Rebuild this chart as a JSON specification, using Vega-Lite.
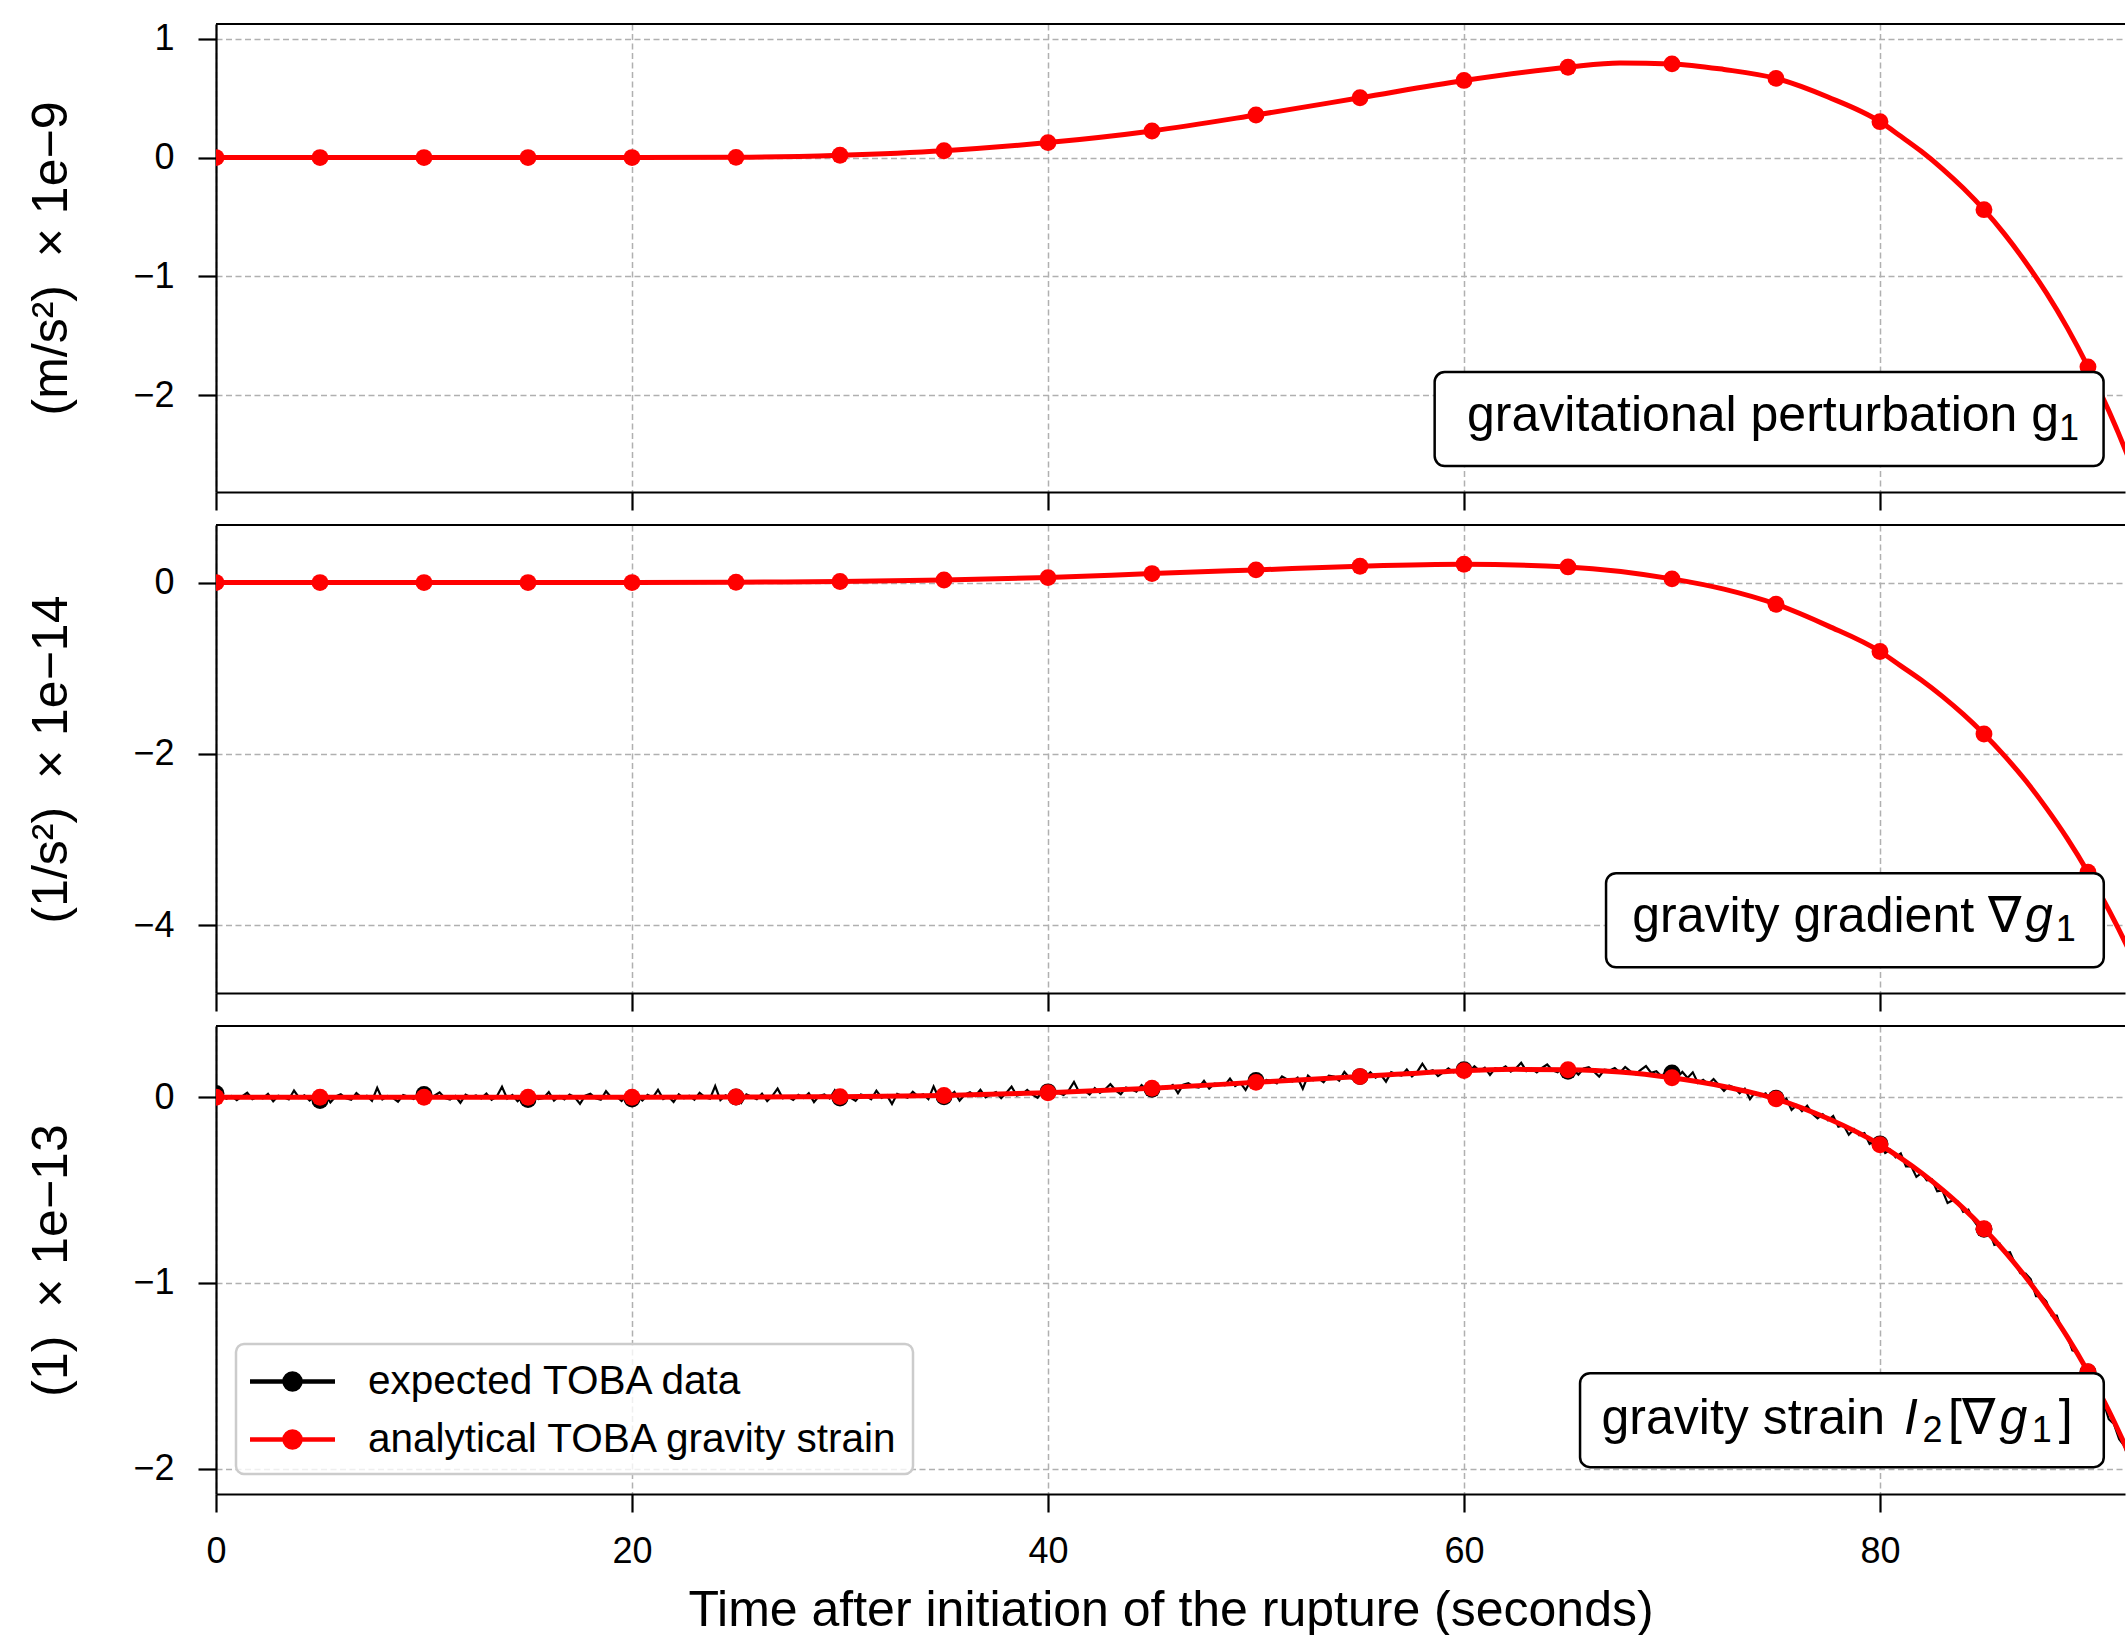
{
  "$schema": "https://vega.github.io/schema/vega-lite/v6.json",
  "background": "white",
  "padding": {"left": 26, "top": 20, "right": 0, "bottom": 0},
  "spacing": 33,
  "bounds": "flush",
  "resolve": {"scale": {"color": "independent"}, "legend": {"color": "independent"}},
  "config": {
    "view": {"stroke": null},
    "font": "Liberation Sans",
    "text": {"font": "Liberation Sans"},
    "axis": {
      "labelFont": "Liberation Sans", "titleFont": "Liberation Sans",
      "labelColor": "black", "titleColor": "black", "titleFontWeight": "normal",
      "domainColor": "black", "domainWidth": 2.2,
      "tickColor": "black", "tickWidth": 2.2, "tickSize": 18,
      "labelFontSize": 36, "titleFontSize": 50,
      "grid": true, "gridColor": "#b0b0b0", "gridDash": [6, 3.5], "gridWidth": 1.5,
      "labelPadding": 22
    },
    "axisX": {"titlePadding": 16, "labelFlush": false},
    "axisY": {"labelPadding": 24, "titlePadding": 56}
  },
  "datasets": {
    "g1": [
      {"t": 0, "v": 0}, {"t": 5, "v": 0}, {"t": 10, "v": 0}, {"t": 15, "v": 0}, {"t": 20, "v": 0},
      {"t": 25, "v": 0.002}, {"t": 30, "v": 0.02}, {"t": 35, "v": 0.058}, {"t": 40, "v": 0.126},
      {"t": 45, "v": 0.224}, {"t": 50, "v": 0.358}, {"t": 55, "v": 0.503}, {"t": 60, "v": 0.649},
      {"t": 65, "v": 0.76}, {"t": 67.5, "v": 0.795}, {"t": 70, "v": 0.788}, {"t": 72.5, "v": 0.741},
      {"t": 75, "v": 0.666}, {"t": 77.5, "v": 0.509}, {"t": 80, "v": 0.302}, {"t": 81, "v": 0.179},
      {"t": 82, "v": 0.051}, {"t": 83, "v": -0.094}, {"t": 84, "v": -0.256}, {"t": 85, "v": -0.438},
      {"t": 86, "v": -0.646}, {"t": 87, "v": -0.88}, {"t": 88, "v": -1.138}, {"t": 89, "v": -1.43},
      {"t": 90, "v": -1.76}, {"t": 91, "v": -2.13}, {"t": 92, "v": -2.547}, {"t": 93, "v": -3.016},
      {"t": 94, "v": -3.54}
    ],
    "grad": [
      {"t": 0, "v": 0}, {"t": 5, "v": 0}, {"t": 10, "v": 0}, {"t": 15, "v": 0}, {"t": 20, "v": 0},
      {"t": 25, "v": 0.004}, {"t": 30, "v": 0.012}, {"t": 35, "v": 0.03}, {"t": 40, "v": 0.058},
      {"t": 45, "v": 0.105}, {"t": 50, "v": 0.148}, {"t": 55, "v": 0.191}, {"t": 60, "v": 0.214},
      {"t": 65, "v": 0.183}, {"t": 70, "v": 0.043}, {"t": 72.5, "v": -0.077}, {"t": 75, "v": -0.252},
      {"t": 77.5, "v": -0.505}, {"t": 80, "v": -0.804}, {"t": 81, "v": -0.972}, {"t": 82, "v": -1.14},
      {"t": 83, "v": -1.328}, {"t": 84, "v": -1.536}, {"t": 85, "v": -1.767}, {"t": 86, "v": -2.025},
      {"t": 87, "v": -2.31}, {"t": 88, "v": -2.632}, {"t": 89, "v": -2.985}, {"t": 90, "v": -3.38},
      {"t": 91, "v": -3.819}, {"t": 92, "v": -4.305}, {"t": 93, "v": -4.849}, {"t": 94, "v": -5.45}
    ],
    "strain": [
      {"t": 0, "v": 0}, {"t": 5, "v": 0}, {"t": 10, "v": 0}, {"t": 15, "v": 0}, {"t": 20, "v": 0},
      {"t": 25, "v": 0.001}, {"t": 30, "v": 0.003}, {"t": 35, "v": 0.009}, {"t": 40, "v": 0.024},
      {"t": 45, "v": 0.048}, {"t": 50, "v": 0.08}, {"t": 55, "v": 0.111}, {"t": 60, "v": 0.143},
      {"t": 62.5, "v": 0.15}, {"t": 65, "v": 0.148}, {"t": 67.5, "v": 0.136}, {"t": 70, "v": 0.105},
      {"t": 72.5, "v": 0.058}, {"t": 75, "v": -0.009}, {"t": 77.5, "v": -0.115}, {"t": 80, "v": -0.256},
      {"t": 81, "v": -0.328}, {"t": 82, "v": -0.408}, {"t": 83, "v": -0.498}, {"t": 84, "v": -0.597},
      {"t": 85, "v": -0.708}, {"t": 86, "v": -0.831}, {"t": 87, "v": -0.968}, {"t": 88, "v": -1.121},
      {"t": 89, "v": -1.289}, {"t": 90, "v": -1.478}, {"t": 91, "v": -1.687}, {"t": 92, "v": -1.93},
      {"t": 94, "v": -2.5}
    ],
    "toba": [
      {"t":0,"v":0.02},{"t":0.25,"v":0.012},{"t":0.5,"v":-0.008},{"t":0.75,"v":0.006},{"t":1,"v":-0.016},{"t":1.25,"v":0.004},{"t":1.5,"v":0.024},{"t":1.75,"v":-0.01},{"t":2,"v":0.002},{"t":2.25,"v":-0.006},{"t":2.5,"v":0.018},{"t":2.75,"v":-0.022},{"t":3,"v":0.008},{"t":3.25,"v":0},{"t":3.5,"v":-0.012},{"t":3.75,"v":0.036},{"t":4,"v":-0.004},{"t":4.25,"v":0.01},{"t":4.5,"v":-0.018},{"t":4.75,"v":0.006},
      {"t":5,"v":-0.018},{"t":5.25,"v":0.014},{"t":5.5,"v":-0.028},{"t":5.75,"v":0.004},{"t":6,"v":0.016},{"t":6.25,"v":-0.006},{"t":6.5,"v":-0.014},{"t":6.75,"v":0.022},{"t":7,"v":-0.002},{"t":7.25,"v":0.008},{"t":7.5,"v":-0.02},{"t":7.75,"v":0.05},{"t":8,"v":-0.012},{"t":8.25,"v":0.006},{"t":8.5,"v":-0.004},{"t":8.75,"v":-0.024},{"t":9,"v":0.012},{"t":9.25,"v":0.002},{"t":9.5,"v":-0.01},{"t":9.75,"v":0.018},
      {"t":10,"v":0.015},{"t":10.25,"v":-0.016},{"t":10.5,"v":0.008},{"t":10.75,"v":0.026},{"t":11,"v":-0.004},{"t":11.25,"v":-0.012},{"t":11.5,"v":0.006},{"t":11.75,"v":-0.03},{"t":12,"v":0.014},{"t":12.25,"v":0},{"t":12.5,"v":0.01},{"t":12.75,"v":-0.006},{"t":13,"v":0.02},{"t":13.25,"v":-0.014},{"t":13.5,"v":0.004},{"t":13.75,"v":0.056},{"t":14,"v":-0.008},{"t":14.25,"v":0.012},{"t":14.5,"v":-0.022},{"t":14.75,"v":0.002},
      {"t":15,"v":-0.013},{"t":15.25,"v":0.016},{"t":15.5,"v":-0.01},{"t":15.75,"v":-0.004},{"t":16,"v":0.028},{"t":16.25,"v":-0.018},{"t":16.5,"v":0.006},{"t":16.75,"v":-0.012},{"t":17,"v":0.014},{"t":17.25,"v":0},{"t":17.5,"v":-0.036},{"t":17.75,"v":0.008},{"t":18,"v":0.018},{"t":18.25,"v":-0.006},{"t":18.5,"v":-0.014},{"t":18.75,"v":0.032},{"t":19,"v":-0.002},{"t":19.25,"v":0.004},{"t":19.5,"v":-0.02},{"t":19.75,"v":0.01},
      {"t":20,"v":-0.01},{"t":20.25,"v":0.006},{"t":20.5,"v":-0.018},{"t":20.75,"v":0.012},{"t":21,"v":-0.002},{"t":21.25,"v":0.04},{"t":21.5,"v":-0.01},{"t":21.75,"v":0.004},{"t":22,"v":-0.026},{"t":22.25,"v":0.016},{"t":22.5,"v":-0.006},{"t":22.75,"v":0.008},{"t":23,"v":-0.014},{"t":23.25,"v":0.024},{"t":23.5,"v":0},{"t":23.75,"v":-0.008},{"t":24,"v":0.06},{"t":24.25,"v":-0.016},{"t":24.5,"v":0.01},{"t":24.75,"v":-0.004},
      {"t":25,"v":0.001},{"t":25.25,"v":-0.031},{"t":25.5,"v":0.015},{"t":25.75,"v":0.003},{"t":26,"v":-0.011},{"t":26.25,"v":0.019},{"t":26.5,"v":-0.021},{"t":26.75,"v":0.007},{"t":27,"v":0.046},{"t":27.25,"v":-0.006},{"t":27.5,"v":0.002},{"t":27.75,"v":-0.014},{"t":28,"v":0.012},{"t":28.25,"v":-0.004},{"t":28.5,"v":0.022},{"t":28.75,"v":-0.026},{"t":29,"v":0.007},{"t":29.25,"v":0.015},{"t":29.5,"v":-0.007},{"t":29.75,"v":0.037},
      {"t":30,"v":-0.005},{"t":30.25,"v":0.019},{"t":30.5,"v":-0.002},{"t":30.75,"v":-0.02},{"t":31,"v":0.014},{"t":31.25,"v":0.006},{"t":31.5,"v":-0.011},{"t":31.75,"v":0.035},{"t":32,"v":-0.003},{"t":32.25,"v":0.011},{"t":32.5,"v":-0.036},{"t":32.75,"v":0.018},{"t":33,"v":0.006},{"t":33.25,"v":-0.003},{"t":33.5,"v":0.029},{"t":33.75,"v":0.005},{"t":34,"v":0.016},{"t":34.25,"v":-0.01},{"t":34.5,"v":0.058},{"t":34.75,"v":-0.003},
      {"t":35,"v":0.002},{"t":35.25,"v":0.004},{"t":35.5,"v":0.028},{"t":35.75,"v":-0.019},{"t":36,"v":0.014},{"t":36.25,"v":0.027},{"t":36.5,"v":0.007},{"t":36.75,"v":0.04},{"t":37,"v":-0.001},{"t":37.25,"v":0.016},{"t":37.5,"v":0.028},{"t":37.75,"v":-0.005},{"t":38,"v":0.024},{"t":38.25,"v":0.057},{"t":38.5,"v":0.009},{"t":38.75,"v":0.016},{"t":39,"v":0.039},{"t":39.25,"v":0.014},{"t":39.5,"v":-0.003},{"t":39.75,"v":0.035},
      {"t":40,"v":0.029},{"t":40.25,"v":0.045},{"t":40.5,"v":0.024},{"t":40.75,"v":0.012},{"t":41,"v":0.037},{"t":41.25,"v":0.082},{"t":41.5,"v":0.027},{"t":41.75,"v":0.035},{"t":42,"v":0.014},{"t":42.25,"v":0.049},{"t":42.5,"v":0.024},{"t":42.75,"v":0.043},{"t":43,"v":0.07},{"t":43.25,"v":0.037},{"t":43.5,"v":0.016},{"t":43.75,"v":0.052},{"t":44,"v":0.043},{"t":44.25,"v":0.03},{"t":44.5,"v":0.065},{"t":44.75,"v":0.039},
      {"t":45,"v":0.043},{"t":45.25,"v":0.031},{"t":45.5,"v":0.055},{"t":45.75,"v":0.048},{"t":46,"v":0.066},{"t":46.25,"v":0.022},{"t":46.5,"v":0.067},{"t":46.75,"v":0.075},{"t":47,"v":0.057},{"t":47.25,"v":0.052},{"t":47.5,"v":0.088},{"t":47.75,"v":0.047},{"t":48,"v":0.073},{"t":48.25,"v":0.071},{"t":48.5,"v":0.064},{"t":48.75,"v":0.1},{"t":49,"v":0.06},{"t":49.25,"v":0.077},{"t":49.5,"v":0.039},{"t":49.75,"v":0.09},
      {"t":50,"v":0.09},{"t":50.25,"v":0.063},{"t":50.5,"v":0.093},{"t":50.75,"v":0.088},{"t":51,"v":0.074},{"t":51.25,"v":0.112},{"t":51.5,"v":0.095},{"t":51.75,"v":0.085},{"t":52,"v":0.105},{"t":52.25,"v":0.046},{"t":52.5,"v":0.116},{"t":52.75,"v":0.091},{"t":53,"v":0.101},{"t":53.25,"v":0.08},{"t":53.5,"v":0.116},{"t":53.75,"v":0.111},{"t":54,"v":0.089},{"t":54.25,"v":0.136},{"t":54.5,"v":0.104},{"t":54.75,"v":0.095},
      {"t":55,"v":0.111},{"t":55.25,"v":0.107},{"t":55.5,"v":0.134},{"t":55.75,"v":0.106},{"t":56,"v":0.122},{"t":56.25,"v":0.084},{"t":56.5,"v":0.135},{"t":56.75,"v":0.123},{"t":57,"v":0.117},{"t":57.25,"v":0.149},{"t":57.5,"v":0.112},{"t":57.75,"v":0.136},{"t":58,"v":0.18},{"t":58.25,"v":0.137},{"t":58.5,"v":0.145},{"t":58.75,"v":0.114},{"t":59,"v":0.134},{"t":59.25,"v":0.155},{"t":59.5,"v":0.134},{"t":59.75,"v":0.148},
      {"t":60,"v":0.148},{"t":60.25,"v":0.136},{"t":60.5,"v":0.167},{"t":60.75,"v":0.142},{"t":61,"v":0.159},{"t":61.25,"v":0.12},{"t":61.5,"v":0.156},{"t":61.75,"v":0.149},{"t":62,"v":0.166},{"t":62.25,"v":0.138},{"t":62.5,"v":0.156},{"t":62.75,"v":0.185},{"t":63,"v":0.141},{"t":63.25,"v":0.153},{"t":63.5,"v":0.134},{"t":63.75,"v":0.158},{"t":64,"v":0.176},{"t":64.25,"v":0.145},{"t":64.5,"v":0.135},{"t":64.75,"v":0.162},
      {"t":65,"v":0.14},{"t":65.25,"v":0.151},{"t":65.5,"v":0.122},{"t":65.75,"v":0.155},{"t":66,"v":0.162},{"t":66.25,"v":0.137},{"t":66.5,"v":0.111},{"t":66.75,"v":0.148},{"t":67,"v":0.144},{"t":67.25,"v":0.157},{"t":67.5,"v":0.133},{"t":67.75,"v":0.163},{"t":68,"v":0.139},{"t":68.25,"v":0.124},{"t":68.5,"v":0.147},{"t":68.75,"v":0.168},{"t":69,"v":0.131},{"t":69.25,"v":0.14},{"t":69.5,"v":0.111},{"t":69.75,"v":0.144},
      {"t":70,"v":0.131},{"t":70.25,"v":0.108},{"t":70.5,"v":0.136},{"t":70.75,"v":0.104},{"t":71,"v":0.134},{"t":71.25,"v":0.077},{"t":71.5,"v":0.094},{"t":71.75,"v":0.071},{"t":72,"v":0.098},{"t":72.25,"v":0.066},{"t":72.5,"v":0.034},{"t":72.75,"v":0.063},{"t":73,"v":0.051},{"t":73.25,"v":0.022},{"t":73.5,"v":0.046},{"t":73.75,"v":-0.01},{"t":74,"v":0.027},{"t":74.25,"v":0.008},{"t":74.5,"v":0.021},{"t":74.75,"v":-0.026},
      {"t":75,"v":-0.005},{"t":75.25,"v":-0.031},{"t":75.5,"v":-0.008},{"t":75.75,"v":-0.068},{"t":76,"v":-0.042},{"t":76.25,"v":-0.075},{"t":76.5,"v":-0.046},{"t":76.75,"v":-0.089},{"t":77,"v":-0.114},{"t":77.25,"v":-0.092},{"t":77.5,"v":-0.124},{"t":77.75,"v":-0.101},{"t":78,"v":-0.159},{"t":78.25,"v":-0.151},{"t":78.5,"v":-0.202},{"t":78.75,"v":-0.172},{"t":79,"v":-0.204},{"t":79.25,"v":-0.193},{"t":79.5,"v":-0.252},{"t":79.75,"v":-0.235},
      {"t":80,"v":-0.251},{"t":80.25,"v":-0.3},{"t":80.5,"v":-0.283},{"t":80.75,"v":-0.323},{"t":81,"v":-0.303},{"t":81.25,"v":-0.372},{"t":81.5,"v":-0.371},{"t":81.75,"v":-0.429},{"t":82,"v":-0.408},{"t":82.25,"v":-0.448},{"t":82.5,"v":-0.443},{"t":82.75,"v":-0.507},{"t":83,"v":-0.502},{"t":83.25,"v":-0.57},{"t":83.5,"v":-0.555},{"t":83.75,"v":-0.563},{"t":84,"v":-0.617},{"t":84.25,"v":-0.605},{"t":84.5,"v":-0.664},{"t":84.75,"v":-0.702},
      {"t":85,"v":-0.711},{"t":85.25,"v":-0.721},{"t":85.5,"v":-0.796},{"t":85.75,"v":-0.788},{"t":86,"v":-0.839},{"t":86.25,"v":-0.835},{"t":86.5,"v":-0.898},{"t":86.75,"v":-0.948},{"t":87,"v":-0.95},{"t":87.25,"v":-0.981},{"t":87.5,"v":-1.071},{"t":87.75,"v":-1.07},{"t":88,"v":-1.101},{"t":88.25,"v":-1.175},{"t":88.5,"v":-1.176},{"t":88.75,"v":-1.256},{"t":89,"v":-1.286},{"t":89.25,"v":-1.363},{"t":89.5,"v":-1.372},{"t":89.75,"v":-1.439},
      {"t":90,"v":-1.48},{"t":90.25,"v":-1.518},{"t":90.5,"v":-1.608},{"t":90.75,"v":-1.642},{"t":91,"v":-1.734},{"t":91.25,"v":-1.76},{"t":91.5,"v":-1.841},{"t":91.75,"v":-1.877},{"t":92,"v":-1.97}
    ]
  },
  "vconcat": [
    {
      "width": 1909,
      "height": 468,
      "layer": [
        {
          "data": {"name": "g1"},
          "mark": {"type": "line", "color": "red", "strokeWidth": 5, "interpolate": "monotone", "clip": true},
          "encoding": {
            "x": {"field": "t", "type": "quantitative", "scale": {"domain": [0, 91.78], "nice": false, "zero": false},
                  "axis": {"values": [0, 20, 40, 60, 80], "labels": false, "title": null}},
            "y": {"field": "v", "type": "quantitative", "scale": {"domain": [-2.8126, 1.1235], "nice": false, "zero": false},
                  "axis": {"values": [-2, -1, 0, 1], "labelExpr": "datum.value < 0 ? '\u2212' + format(-datum.value, 'd') : format(datum.value, 'd')", "title": "(m/s²) \u00a0× 1e−9"}}
          }
        },
        {
          "data": {"name": "g1"},
          "transform": [{"filter": "datum.t % 5 === 0"}],
          "mark": {"type": "point", "filled": true, "color": "red", "size": 285, "opacity": 1, "clip": true},
          "encoding": {"x": {"field": "t", "type": "quantitative"}, "y": {"field": "v", "type": "quantitative"}}
        },
        {
          "data": {"values": [{}]},
          "mark": {"type": "rect", "fill": "white", "stroke": "black", "strokeWidth": 2.5, "cornerRadius": 10},
          "encoding": {"x": {"datum": 58.59}, "x2": {"datum": 90.75}, "y": {"datum": -1.804}, "y2": {"datum": -2.594}}
        },
        {
          "data": {"values": [{}]},
          "mark": {"type": "text", "text": "gravitational perturbation g", "fontSize": 50, "align": "right", "baseline": "alphabetic", "color": "black"},
          "encoding": {"x": {"datum": 88.61}, "y": {"datum": -2.3}}
        },
        {
          "data": {"values": [{}]},
          "mark": {"type": "text", "text": "1", "fontSize": 36, "align": "left", "baseline": "alphabetic", "color": "black"},
          "encoding": {"x": {"datum": 88.61}, "y": {"datum": -2.376}}
        },
        {
          "data": {"values": [{}]},
          "mark": {"type": "rule", "stroke": "black", "strokeWidth": 2.2},
          "encoding": {"y": {"datum": 1.1235}}
        }
      ]
    },
    {
      "width": 1909,
      "height": 468,
      "layer": [
        {
          "data": {"name": "grad"},
          "mark": {"type": "line", "color": "red", "strokeWidth": 5, "interpolate": "monotone", "clip": true},
          "encoding": {
            "x": {"field": "t", "type": "quantitative", "scale": {"domain": [0, 91.78], "nice": false, "zero": false},
                  "axis": {"values": [0, 20, 40, 60, 80], "labels": false, "title": null}},
            "y": {"field": "v", "type": "quantitative", "scale": {"domain": [-4.789, 0.672], "nice": false, "zero": false},
                  "axis": {"values": [-4, -2, 0], "labelExpr": "datum.value < 0 ? '\u2212' + format(-datum.value, 'd') : format(datum.value, 'd')", "title": "(1/s²) \u00a0× 1e−14"}}
          }
        },
        {
          "data": {"name": "grad"},
          "transform": [{"filter": "datum.t % 5 === 0"}],
          "mark": {"type": "point", "filled": true, "color": "red", "size": 285, "opacity": 1, "clip": true},
          "encoding": {"x": {"field": "t", "type": "quantitative"}, "y": {"field": "v", "type": "quantitative"}}
        },
        {
          "data": {"values": [{}]},
          "mark": {"type": "rect", "fill": "white", "stroke": "black", "strokeWidth": 2.5, "cornerRadius": 10},
          "encoding": {"x": {"datum": 66.83}, "x2": {"datum": 90.76}, "y": {"datum": -3.392}, "y2": {"datum": -4.488}}
        },
        {
          "data": {"values": [{}]},
          "mark": {"type": "text", "text": "gravity gradient ∇", "fontSize": 50, "align": "right", "baseline": "alphabetic", "color": "black"},
          "encoding": {"x": {"datum": 86.78}, "y": {"datum": -4.08}}
        },
        {
          "data": {"values": [{}]},
          "mark": {"type": "text", "text": "g", "fontSize": 50, "fontStyle": "italic", "align": "left", "baseline": "alphabetic", "color": "black"},
          "encoding": {"x": {"datum": 86.97}, "y": {"datum": -4.08}}
        },
        {
          "data": {"values": [{}]},
          "mark": {"type": "text", "text": "1", "fontSize": 36, "align": "left", "baseline": "alphabetic", "color": "black"},
          "encoding": {"x": {"datum": 88.45}, "y": {"datum": -4.185}}
        },
        {
          "data": {"values": [{}]},
          "mark": {"type": "rule", "stroke": "black", "strokeWidth": 2.2},
          "encoding": {"y": {"datum": 0.672}}
        }
      ]
    },
    {
      "width": 1909,
      "height": 468,
      "layer": [
        {
          "data": {"name": "toba"},
          "mark": {"type": "line", "strokeWidth": 2.2, "clip": true},
          "encoding": {
            "x": {"field": "t", "type": "quantitative", "scale": {"domain": [0, 91.78], "nice": false, "zero": false},
                  "axis": {"values": [0, 20, 40, 60, 80], "format": "d", "title": "Time after initiation of the rupture (seconds)"}},
            "y": {"field": "v", "type": "quantitative", "scale": {"domain": [-2.1366, 0.3834], "nice": false, "zero": false},
                  "axis": {"values": [-2, -1, 0], "labelExpr": "datum.value < 0 ? '\u2212' + format(-datum.value, 'd') : format(datum.value, 'd')", "title": "(1) \u00a0× 1e−13"}},
            "color": {
              "datum": "expected TOBA data",
              "scale": {"domain": ["expected TOBA data", "analytical TOBA gravity strain"], "range": ["black", "red"]},
              "legend": {
                "title": null, "orient": "bottom-left", "offset": 20, "padding": 14,
                "fillColor": "rgba(255,255,255,0.8)", "strokeColor": "#cccccc", "cornerRadius": 8,
                "labelFont": "Liberation Sans", "labelFontSize": 40.5, "labelColor": "black", "labelLimit": 900,
                "symbolOffset": 19, "labelOffset": 52, "rowPadding": 14,
                "symbolType": "M-2,0H2M0.376,0A0.376,0.376,0,1,1,-0.376,0A0.376,0.376,0,1,1,0.376,0Z",
                "symbolSize": 1806, "symbolStrokeWidth": 4.5,
                "encode": {
                  "symbols": {"update": {
                    "fill": {"signal": "datum.value === 'expected TOBA data' ? 'black' : 'red'"},
                    "stroke": {"signal": "datum.value === 'expected TOBA data' ? 'black' : 'red'"},
                    "opacity": {"value": 1}
                  }},
                  "legend": {"update": {"strokeWidth": {"value": 2.5}}}
                }
              }
            }
          }
        },
        {
          "data": {"name": "toba"},
          "transform": [{"filter": "datum.t % 5 === 0"}],
          "mark": {"type": "point", "filled": true, "color": "black", "size": 285, "opacity": 1, "clip": true},
          "encoding": {"x": {"field": "t", "type": "quantitative"}, "y": {"field": "v", "type": "quantitative"}}
        },
        {
          "data": {"name": "strain"},
          "mark": {"type": "line", "strokeWidth": 5, "interpolate": "monotone", "clip": true},
          "encoding": {
            "x": {"field": "t", "type": "quantitative"},
            "y": {"field": "v", "type": "quantitative"},
            "color": {"datum": "analytical TOBA gravity strain"}
          }
        },
        {
          "data": {"name": "strain"},
          "transform": [{"filter": "datum.t % 5 === 0"}],
          "mark": {"type": "point", "filled": true, "color": "red", "size": 285, "opacity": 1, "clip": true},
          "encoding": {"x": {"field": "t", "type": "quantitative"}, "y": {"field": "v", "type": "quantitative"}}
        },
        {
          "data": {"values": [{}]},
          "mark": {"type": "rect", "fill": "white", "stroke": "black", "strokeWidth": 2.5, "cornerRadius": 10},
          "encoding": {"x": {"datum": 65.58}, "x2": {"datum": 90.76}, "y": {"datum": -1.4864}, "y2": {"datum": -1.992}}
        },
        {
          "data": {"values": [{}]},
          "mark": {"type": "text", "text": "gravity strain", "fontSize": 50, "align": "right", "baseline": "alphabetic", "color": "black"},
          "encoding": {"x": {"datum": 80.24}, "y": {"datum": -1.811}}
        },
        {
          "data": {"values": [{}]},
          "mark": {"type": "text", "text": "I", "fontSize": 50, "fontStyle": "italic", "align": "left", "baseline": "alphabetic", "color": "black"},
          "encoding": {"x": {"datum": 81.15}, "y": {"datum": -1.811}}
        },
        {
          "data": {"values": [{}]},
          "mark": {"type": "text", "text": "2", "fontSize": 36, "align": "left", "baseline": "alphabetic", "color": "black"},
          "encoding": {"x": {"datum": 82.05}, "y": {"datum": -1.859}}
        },
        {
          "data": {"values": [{}]},
          "mark": {"type": "text", "text": "[∇", "fontSize": 50, "align": "left", "baseline": "alphabetic", "color": "black"},
          "encoding": {"x": {"datum": 83.27}, "y": {"datum": -1.811}}
        },
        {
          "data": {"values": [{}]},
          "mark": {"type": "text", "text": "g", "fontSize": 50, "fontStyle": "italic", "align": "left", "baseline": "alphabetic", "color": "black"},
          "encoding": {"x": {"datum": 85.75}, "y": {"datum": -1.811}}
        },
        {
          "data": {"values": [{}]},
          "mark": {"type": "text", "text": "1", "fontSize": 36, "align": "left", "baseline": "alphabetic", "color": "black"},
          "encoding": {"x": {"datum": 87.3}, "y": {"datum": -1.859}}
        },
        {
          "data": {"values": [{}]},
          "mark": {"type": "text", "text": "]", "fontSize": 50, "align": "left", "baseline": "alphabetic", "color": "black"},
          "encoding": {"x": {"datum": 88.6}, "y": {"datum": -1.811}}
        },
        {
          "data": {"values": [{}]},
          "mark": {"type": "rule", "stroke": "black", "strokeWidth": 2.2},
          "encoding": {"y": {"datum": 0.3834}}
        }
      ]
    }
  ]
}
